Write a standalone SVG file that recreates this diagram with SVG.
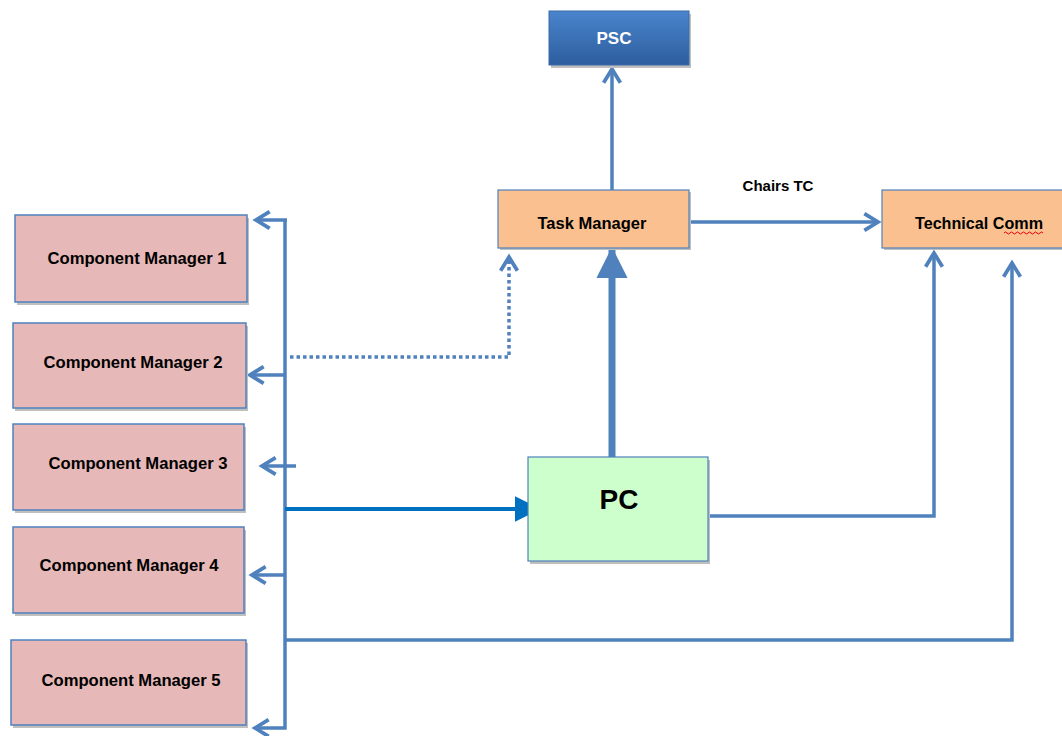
<svg xmlns="http://www.w3.org/2000/svg" width="1062" height="736" viewBox="0 0 1062 736">
<defs>
<linearGradient id="pscGrad" x1="0" y1="0" x2="0" y2="1">
<stop offset="0" stop-color="#4a84cc"/>
<stop offset="1" stop-color="#2d5e9e"/>
</linearGradient>
<marker id="arr" viewBox="0 0 10 10" refX="8" refY="5" markerWidth="6" markerHeight="6" orient="auto" markerUnits="strokeWidth">
<polyline points="1.5,1 8,5 1.5,9" fill="none" stroke="#4f81bd" stroke-width="1.8" stroke-linejoin="miter"/>
</marker>
<marker id="tri" viewBox="0 0 10 10" refX="9" refY="5" markerWidth="4.5" markerHeight="4.5" orient="auto" markerUnits="strokeWidth">
<path d="M0,0 L10,5 L0,10 Z" fill="#4f81bd"/>
</marker>
<marker id="triDark" viewBox="0 0 10 10" refX="9" refY="5" markerWidth="6.5" markerHeight="6.5" orient="auto" markerUnits="strokeWidth">
<path d="M0,0 L10,5 L0,10 Z" fill="#0070c0"/>
</marker>
</defs>
<style>
.cm rect.b{fill:#e6b8b7;stroke:#4f81bd;stroke-width:1.5}
.sh{fill:#bfbfbf}
.lbl{font-family:"Liberation Sans",Arial,sans-serif;font-weight:bold;font-size:16.5px;fill:#000;text-anchor:middle}
.ln{fill:none;stroke:#4f81bd;stroke-width:3.5}
</style>
<rect width="1062" height="736" fill="#fff"/>

<g id="connectors">
<!-- bus -->
<polyline class="ln" points="285,220 285,728 255,728" marker-end="url(#arr)"/>
<line class="ln" x1="287" y1="220" x2="256" y2="220" marker-end="url(#arr)"/>
<line class="ln" x1="285" y1="375" x2="250" y2="375" marker-end="url(#arr)"/>
<line class="ln" x1="296" y1="466" x2="262" y2="466" marker-end="url(#arr)"/>
<line class="ln" x1="285" y1="575" x2="252" y2="575" marker-end="url(#arr)"/>
<!-- dotted to Task Manager -->
<polyline fill="none" stroke="#4f81bd" stroke-width="3.5" stroke-dasharray="3.5,3" points="290,357 509,357 509,257" marker-end="url(#arr)"/>
<!-- to PC -->
<line x1="285" y1="509" x2="538" y2="509" stroke="#0070c0" stroke-width="4" marker-end="url(#triDark)"/>
<!-- PC to Task Manager thick -->
<line x1="612" y1="457" x2="612" y2="250" stroke="#4f81bd" stroke-width="7" marker-end="url(#tri)"/>
<!-- Task Manager to PSC -->
<line class="ln" x1="612" y1="190" x2="612" y2="69" marker-end="url(#arr)"/>
<!-- Task Manager to Technical Comm -->
<line class="ln" x1="689" y1="222" x2="878" y2="222" marker-end="url(#arr)"/>
<!-- PC to Technical Comm -->
<polyline class="ln" points="708,516 934,516 934,253" marker-end="url(#arr)"/>
<!-- bus to Technical Comm -->
<polyline class="ln" points="285,640 1012,640 1012,263" marker-end="url(#arr)"/>
</g>

<g id="psc">
<rect class="sh" x="551" y="14" width="140" height="54"/>
<rect x="549" y="11" width="140" height="54" fill="url(#pscGrad)" stroke="#3a6aa8" stroke-width="1"/>
<text x="614" y="44" font-family="Liberation Sans,Arial,sans-serif" font-weight="bold" font-size="17" fill="#fff" text-anchor="middle">PSC</text>
</g>

<g id="task-manager">
<rect class="sh" x="500" y="192" width="191" height="58"/>
<rect x="498" y="190" width="191" height="58" fill="#fac090" stroke="#4f81bd" stroke-width="1.2"/>
<text class="lbl" x="592" y="229" textLength="109" lengthAdjust="spacingAndGlyphs">Task Manager</text>
</g>

<g id="technical-comm">
<rect class="sh" x="884" y="192" width="180" height="58"/>
<rect x="882" y="190" width="182" height="58" fill="#fac090" stroke="#4f81bd" stroke-width="1.2"/>
<text class="lbl" x="979" y="229" textLength="128" lengthAdjust="spacingAndGlyphs">Technical Comm</text>
<path d="M1004,233 q1.5,-2 3,0 t3,0 t3,0 t3,0 t3,0 t3,0 t3,0 t3,0 t3,0 t3,0 t3,0 t3,0 t3,0" fill="none" stroke="#e00000" stroke-width="1"/>
</g>

<text id="chairs-tc" class="lbl" x="778" y="191" style="font-size:15px">Chairs TC</text>

<g id="cm1" class="cm">
<rect class="sh" x="17" y="218" width="232" height="87"/>
<rect class="b" x="15" y="215" width="232" height="87"/>
<text class="lbl" x="137" y="264" textLength="179" lengthAdjust="spacingAndGlyphs">Component Manager 1</text>
</g>
<g id="cm2" class="cm">
<rect class="sh" x="15" y="326" width="233" height="85"/>
<rect class="b" x="13" y="323" width="233" height="85"/>
<text class="lbl" x="133" y="368" textLength="179" lengthAdjust="spacingAndGlyphs">Component Manager 2</text>
</g>
<g id="cm3" class="cm">
<rect class="sh" x="15" y="427" width="231" height="86"/>
<rect class="b" x="13" y="424" width="231" height="86"/>
<text class="lbl" x="138" y="469" textLength="179" lengthAdjust="spacingAndGlyphs">Component Manager 3</text>
</g>
<g id="cm4" class="cm">
<rect class="sh" x="15" y="530" width="231" height="86"/>
<rect class="b" x="13" y="527" width="231" height="86"/>
<text class="lbl" x="129" y="571" textLength="179" lengthAdjust="spacingAndGlyphs">Component Manager 4</text>
</g>
<g id="cm5" class="cm">
<rect class="sh" x="13" y="643" width="235" height="85"/>
<rect class="b" x="11" y="640" width="235" height="85"/>
<text class="lbl" x="131" y="686" textLength="179" lengthAdjust="spacingAndGlyphs">Component Manager 5</text>
</g>

<g id="pc">
<rect class="sh" x="530" y="460" width="180" height="104"/>
<rect x="528" y="457" width="180" height="104" fill="#ccffcc" stroke="#4f81bd" stroke-width="1.2"/>
<text x="619" y="509" font-family="Liberation Sans,Arial,sans-serif" font-weight="bold" font-size="28" fill="#000" text-anchor="middle">PC</text>
</g>
</svg>
